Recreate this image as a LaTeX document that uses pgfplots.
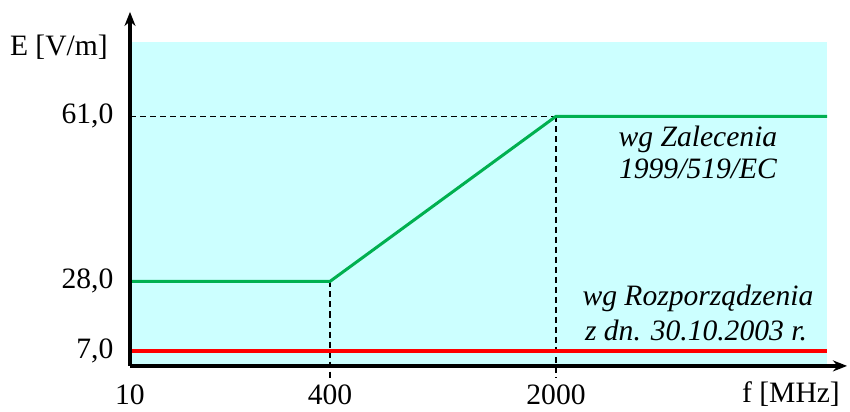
\documentclass[border=0pt]{standalone}
\usepackage{pgfplots}
\pgfplotsset{compat=1.18}
\usepackage{fontspec}
\setmainfont{Liberation Serif}
\usetikzlibrary{arrows.meta}
\definecolor{bgcyan}{RGB}{204,255,255}
\definecolor{lgreen}{RGB}{0,176,80}
\begin{document}
\begin{tikzpicture}
\begin{axis}[
  scale only axis,
  width=715pt, height=353pt,
  xmin=0, xmax=717, ymin=-15, ymax=341,
  axis lines=left,
  axis line style={line width=3.3pt, -{Stealth[length=14pt,width=11pt]}},
  clip=false,
  xtick={0,200,426}, xticklabels={10,400,2000},
  ytick={0,70,236}, yticklabels={{7,0},{28,0},{61,0}},
  major tick length=0pt,
  ticklabel style={font=\fontsize{29.5}{35}\selectfont},
  xticklabel style={anchor=base, yshift=-38pt},
  yticklabel style={anchor=east, xshift=-13pt},
  axis on top,
]
\fill[bgcyan] (axis cs:0,-15) rectangle (axis cs:697,311);
\draw[line width=1.3pt, dash pattern=on 6pt off 4pt] (axis cs:0,236) -- (axis cs:426,236);
\draw[line width=1.3pt, dash pattern=on 6pt off 4pt] (axis cs:200,70) -- (axis cs:200,-27);
\draw[line width=1.3pt, dash pattern=on 6pt off 4pt] (axis cs:426,236) -- (axis cs:426,-27);
\addplot[lgreen, line width=3pt] coordinates {(0,70) (200,70) (426,236) (697,236)};
\addplot[red, line width=3.5pt] coordinates {(0,0) (697,0)};
\node[anchor=base, font=\itshape\fontsize{29.5}{35}\selectfont, inner sep=0pt] at (axis cs:568,206) {wg Zalecenia};
\node[anchor=base, font=\itshape\fontsize{29.5}{35}\selectfont, inner sep=0pt] at (axis cs:568,173) {1999/519/EC};
\node[anchor=base, font=\itshape\fontsize{29.5}{35}\selectfont, inner sep=0pt] at (axis cs:568,46) {wg Rozporządzenia};
\node[anchor=base, font=\itshape\fontsize{29.5}{35}\selectfont, inner sep=0pt] at (axis cs:566,11) {z dn. 30.10.2003 r.};
\node[anchor=base, font=\fontsize{29.5}{35}\selectfont, inner sep=0pt] at (axis cs:661,-52) {f [MHz]};
\node[anchor=base east, font=\fontsize{29.5}{35}\selectfont, inner sep=0pt] at (axis cs:-22,297) {E [V/m]};
\coordinate (bl) at (axis cs:-130,-61);
\coordinate (tr) at (axis cs:720,353);
\end{axis}
\pgfresetboundingbox
\path[use as bounding box] (bl) rectangle (tr);
\end{tikzpicture}
\end{document}
